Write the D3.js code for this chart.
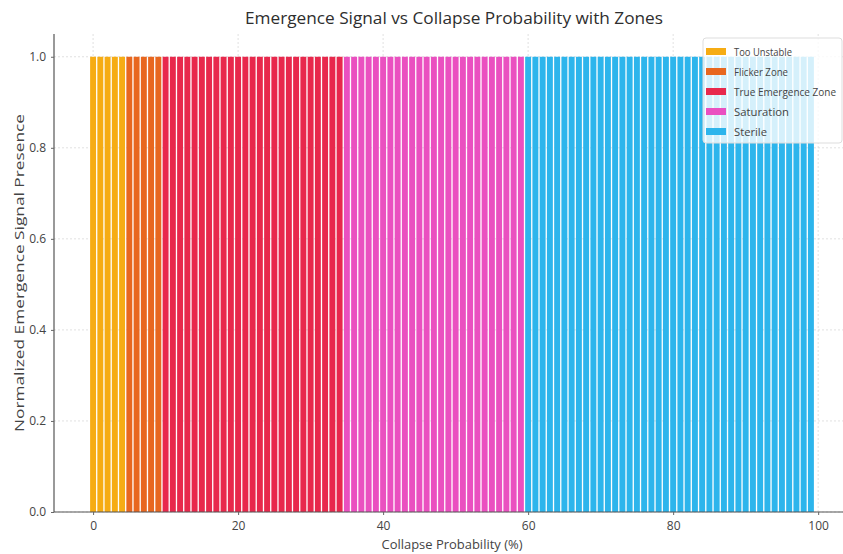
<!DOCTYPE html>
<html>
<head>
<meta charset="utf-8">
<script src="https://cdn.jsdelivr.net/npm/d3@7"></script>
<style>
  html, body { margin: 0; padding: 0; background: #fff; }
  svg { display: block; overflow: hidden; }
  text { font-family: "Open Sans", "DejaVu Sans", sans-serif; }
</style>
</head>
<body>
<svg id="chart" width="843" height="554"></svg>
<script>
// collapse probability (%) of each run, and its normalized signal presence
const collapseProb = [
  0, 1, 2, 3, 4, 5, 6, 7, 8, 9,
  10, 11, 12, 13, 14, 15, 16, 17, 18, 19,
  20, 21, 22, 23, 24, 25, 26, 27, 28, 29,
  30, 31, 32, 33, 34, 35, 36, 37, 38, 39,
  40, 41, 42, 43, 44, 45, 46, 47, 48, 49,
  50, 51, 52, 53, 54, 55, 56, 57, 58, 59,
  60, 61, 62, 63, 64, 65, 66, 67, 68, 69,
  70, 71, 72, 73, 74, 75, 76, 77, 78, 79,
  80, 81, 82, 83, 84, 85, 86, 87, 88, 89,
  90, 91, 92, 93, 94, 95, 96, 97, 98, 99
];
const signal = [
  1, 1, 1, 1, 1, 1, 1, 1, 1, 1,
  1, 1, 1, 1, 1, 1, 1, 1, 1, 1,
  1, 1, 1, 1, 1, 1, 1, 1, 1, 1,
  1, 1, 1, 1, 1, 1, 1, 1, 1, 1,
  1, 1, 1, 1, 1, 1, 1, 1, 1, 1,
  1, 1, 1, 1, 1, 1, 1, 1, 1, 1,
  1, 1, 1, 1, 1, 1, 1, 1, 1, 1,
  1, 1, 1, 1, 1, 1, 1, 1, 1, 1,
  1, 1, 1, 1, 1, 1, 1, 1, 1, 1,
  1, 1, 1, 1, 1, 1, 1, 1, 1, 1
];
// zones: name, first probability in zone, colour
const zoneNames = ["Too Unstable", "Flicker Zone", "True Emergence Zone", "Saturation", "Sterile"];
const zoneStart = [0, 5, 10, 35, 60];
const zoneColors = ["#f6ac14", "#e8671f", "#e8284c", "#ea50c0", "#2db5ec"];

const xTicks = [0, 20, 40, 60, 80, 100];
const yTicks = [0.0, 0.2, 0.4, 0.6, 0.8, 1.0];

const W = 843, H = 554;
const M = { top: 34, right: -7, bottom: 42, left: 54 };
const svg = d3.select("#chart");

const x = d3.scaleLinear().domain([-5.39, 104.39]).range([M.left, W - M.right]);
const y = d3.scaleLinear().domain([0, 1.05]).range([H - M.bottom, M.top]);

const zoneOf = p => {
  let z = 0;
  zoneStart.forEach((s, i) => { if (p >= s) z = i; });
  return z;
};
const data = collapseProb.map((p, i) => ({ p, v: signal[i], z: zoneOf(p) }));

// grid
const grid = svg.append("g");
grid.selectAll("line.h").data(yTicks).join("line")
  .attr("x1", M.left).attr("x2", W - M.right)
  .attr("y1", d => y(d)).attr("y2", d => y(d))
  .attr("stroke", "#d9d9d9").attr("stroke-width", 0.8).attr("stroke-dasharray", "2 2");
grid.selectAll("line.v").data(xTicks).join("line")
  .attr("x1", d => x(d)).attr("x2", d => x(d))
  .attr("y1", M.top).attr("y2", H - M.bottom)
  .attr("stroke", "#d9d9d9").attr("stroke-width", 0.8).attr("stroke-dasharray", "2 2");

// bars
const bw = 0.82;
svg.append("g").selectAll("rect").data(data).join("rect")
  .attr("x", d => x(d.p - bw / 2))
  .attr("width", x(bw) - x(0))
  .attr("y", d => y(d.v))
  .attr("height", d => y(0) - y(d.v))
  .attr("fill", d => zoneColors[d.z]);

// axes
const gx = svg.append("g").attr("transform", `translate(0,${H - M.bottom})`)
  .call(d3.axisBottom(x).tickValues(xTicks).tickFormat(d3.format("d")).tickSize(3).tickPadding(6));
const gy = svg.append("g").attr("transform", `translate(${M.left},0)`)
  .call(d3.axisLeft(y).tickValues(yTicks).tickFormat(d3.format(".1f")).tickSize(3).tickPadding(5));
[gx, gy].forEach(g => {
  g.select(".domain").attr("stroke", "#555").attr("stroke-width", 1.2);
  g.selectAll(".tick line").attr("stroke", "#666");
  g.selectAll("text").attr("fill", "#444").attr("font-size", 12);
});
gx.select(".domain").attr("d", `M${M.left},0H${W - M.right}`);
gy.select(".domain").attr("d", `M0,${M.top}V${H - M.bottom}`);

// titles
svg.append("text").attr("x", 454).attr("y", 24).attr("text-anchor", "middle")
  .attr("font-size", 16).attr("fill", "#2e2e2e")
  .attr("textLength", 418).attr("lengthAdjust", "spacingAndGlyphs")
  .text("Emergence Signal vs Collapse Probability with Zones");
svg.append("text").attr("x", 452).attr("y", 549).attr("text-anchor", "middle")
  .attr("font-size", 13).attr("fill", "#444")
  .attr("textLength", 141).attr("lengthAdjust", "spacingAndGlyphs")
  .text("Collapse Probability (%)");
svg.append("text")
  .attr("transform", `translate(24,${(M.top + H - M.bottom) / 2}) rotate(-90)`)
  .attr("text-anchor", "middle").attr("font-size", 13).attr("fill", "#444")
  .attr("textLength", 318).attr("lengthAdjust", "spacingAndGlyphs")
  .text("Normalized Emergence Signal Presence");

// legend
const lg = svg.append("g").attr("transform", "translate(703,38)");
lg.append("rect").attr("width", 139).attr("height", 105).attr("rx", 3)
  .attr("fill", "#fff").attr("fill-opacity", 0.8).attr("stroke", "#ddd");
zoneNames.forEach((n, i) => {
  const row = lg.append("g").attr("transform", `translate(0,${14 + i * 20})`);
  row.append("rect").attr("x", 3).attr("y", -4).attr("width", 20).attr("height", 7)
    .attr("fill", zoneColors[i]);
  row.append("text").attr("x", 31).attr("y", 4).attr("font-size", 10).attr("fill", "#444")
    .attr("textLength", [58, 54, 102, 55, 33][i]).attr("lengthAdjust", "spacingAndGlyphs")
    .text(n);
});
</script>
</body>
</html>
